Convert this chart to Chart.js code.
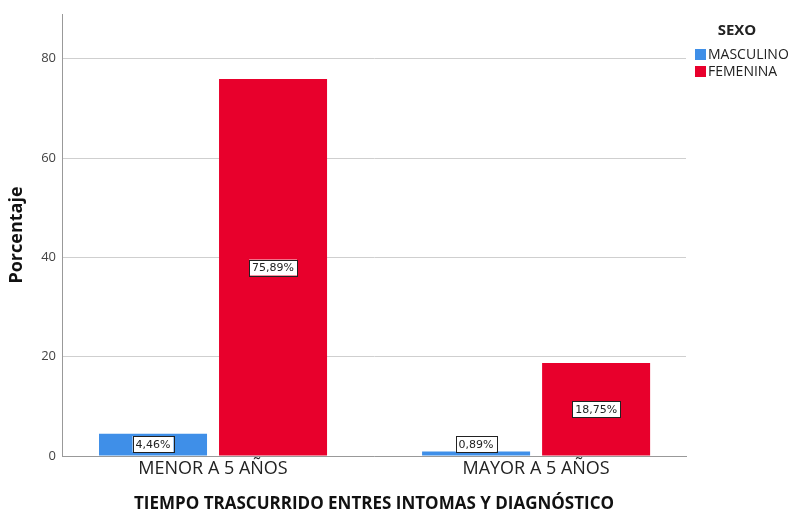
<!DOCTYPE html>
<html><head><meta charset="utf-8">
<script src="https://cdn.jsdelivr.net/npm/chart.js@4/dist/chart.umd.min.js"></script>
<style>html,body{margin:0;padding:0;background:#fff;}#wrap{width:788px;height:514px;}</style>
</head><body><div id="wrap"><canvas id="c" width="788" height="514"></canvas></div>
<script>
const categories = ["MENOR A 5 AÑOS", "MAYOR A 5 AÑOS"];
const seriesNames = ["MASCULINO", "FEMENINA"];
const masculino = [4.46, 0.89];
const femenina = [75.89, 18.75];
const yTicks = [0, 20, 40, 60, 80];
const legendTitle = "SEXO";
const xTitle = "TIEMPO TRASCURRIDO ENTRES INTOMAS Y DIAGNÓSTICO";
const yTitle = "Porcentaje";
const colors = ["#3F8FE8", "#E8002C"];

const fmt = v => v.toFixed(2).replace('.', ',') + '%';

const labelsPlugin = {
  id: 'labelsPlugin',
  afterDatasetsDraw(chart) {
    const ctx = chart.ctx;
    const yScale = chart.scales.y;
    const base = yScale.getPixelForValue(0);
    ctx.save();
    ctx.font = '11px "DejaVu Sans"';
    ctx.textAlign = 'center';
    ctx.textBaseline = 'middle';
    chart.data.datasets.forEach((ds, di) => {
      const meta = chart.getDatasetMeta(di);
      meta.data.forEach((bar, i) => {
        const v = ds.data[i].y;
        let y = (bar.y + base) / 2;
        y = Math.min(y, base - 12);
        const t = fmt(v);
        const w = ctx.measureText(t).width + 6;
        const h = 16;
        ctx.fillStyle = '#fff';
        ctx.fillRect(bar.x - w / 2, y - h / 2, w, h);
        ctx.strokeStyle = '#222';
        ctx.lineWidth = 1;
        ctx.strokeRect(Math.round(bar.x - w / 2) + 0.5, Math.round(y - h / 2) + 0.5, Math.round(w), h);
        ctx.fillStyle = '#222';
        ctx.fillText(t, bar.x, y + 1);
      });
    });
    // legend
    ctx.font = 'bold 15px "Open Sans"';
    ctx.fillStyle = '#222';
    ctx.textAlign = 'center';
    ctx.fillText(legendTitle, 737, 31);
    ctx.font = '14px "Open Sans"';
    ctx.textAlign = 'left';
    seriesNames.forEach((n, i) => {
      const y = 54 + i * 17;
      ctx.fillStyle = colors[i];
      ctx.fillRect(695, y - 5, 11, 11);
      ctx.fillStyle = '#222';
      ctx.fillText(n, 708, y + 1);
    });
    ctx.restore();
  }
};

new Chart(document.getElementById('c'), {
  type: 'bar',
  data: {
    datasets: [
      { label: seriesNames[0], data: masculino.map((v, i) => ({ x: i, y: v })), backgroundColor: colors[0] },
      { label: seriesNames[1], data: femenina.map((v, i) => ({ x: i, y: v })), backgroundColor: colors[1] }
    ]
  },
  options: {
    responsive: false,
    animation: false,
    devicePixelRatio: 1,
    layout: { padding: { left: 0, right: 102, top: 14, bottom: 0 } },
    categoryPercentage: 0.743,
    barPercentage: 0.9,
    plugins: { legend: { display: false }, tooltip: { enabled: false } },
    scales: {
      x: {
        type: 'linear',
        offset: false,
        min: -0.4675, max: 1.464,
        afterBuildTicks(s) { s.ticks = categories.map((c, i) => ({ value: i })); },
        grid: { display: false, drawTicks: false, offset: false },
        border: { display: true, color: '#999', width: 1 },
        ticks: { color: '#222', font: { family: 'Open Sans', size: 18 }, padding: 2,
                 callback: v => categories[v] },
        title: { display: true, text: xTitle, color: '#111', font: { family: 'Open Sans', size: 17, weight: 'bold' }, padding: { top: 6, bottom: 0 } },
        afterFit(s) { s.height = 58; }
      },
      y: {
        min: 0, max: 89,
        afterBuildTicks(s) { s.ticks = yTicks.map(v => ({ value: v })); },
        grid: { color: '#cfcfcf', drawTicks: false, lineWidth: 1 },
        border: { display: true, color: '#999', width: 1 },
        ticks: { color: '#444', font: { family: 'Open Sans', size: 13 }, padding: 6 },
        title: { display: true, text: yTitle, color: '#111', font: { family: 'Open Sans', size: 18, weight: 'bold' }, padding: { top: 6, bottom: 0 } },
        afterFit(s) { s.width = 62; }
      }
    }
  },
  plugins: [labelsPlugin]
});
</script></body></html>
